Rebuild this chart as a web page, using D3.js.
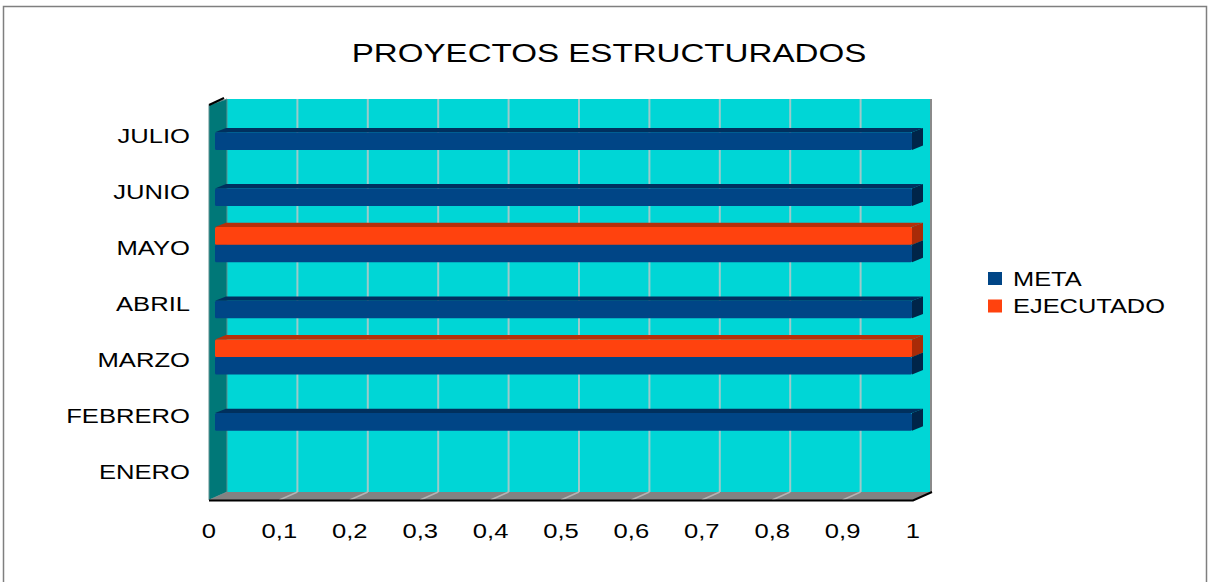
<!DOCTYPE html>
<html>

<head>
    <title>Proyectos estructurados</title>
    <meta charset="utf-8">
    <script src="https://d3js.org/d3.v7.min.js"></script>
    <style>
        body { margin: 0; background: #fff; }
        text { font-family: "Liberation Sans", Arial, sans-serif; fill: #000; }
    </style>
</head>

<body>
</body>

<script>

    let meses = ["ENERO", "FEBRERO", "MARZO", "ABRIL", "MAYO", "JUNIO", "JULIO"];
    let meta = [0, 1, 1, 1, 1, 1, 1];
    let ejecutado = [0, 0, 1, 0, 1, 0, 0];
    let series = ["EJECUTADO", "META"];   // arriba -> abajo dentro de cada mes
    let ticks = [0, 0.1, 0.2, 0.3, 0.4, 0.5, 0.6, 0.7, 0.8, 0.9, 1];

    let width = 1209, height = 582;
    let stretch = 1.22;             // la imagen original esta estirada en horizontal
    let depth = [18, -8];           // desplazamiento de la pared del fondo

    let colores = {
        "META": { front: "#004586", top: "#00305e", side: "#002549" },
        "EJECUTADO": { front: "#ff420e", top: "#b5300a", side: "#a82b08" }
    };

    let svg = d3.select("body")
        .append("svg")
            .attr("width", width)
            .attr("height", height);

    // marco exterior
    svg.append("rect")
        .attr("x", 3.5).attr("y", 6.5)
        .attr("width", 1203).attr("height", 600)
        .attr("fill", "none")
        .attr("stroke", "#7f7f7f")
        .attr("stroke-width", 1.5);

    svg.append("text")
        .attr("transform", "translate(609,62) scale(1.25,1)")
        .attr("text-anchor", "middle")
        .style("font-size", "26.5px")
        .text("PROYECTOS ESTRUCTURADOS");

    // escalas en el plano frontal
    let x = d3.scaleLinear().domain([0, 1]).range([209, 913]);
    let y = d3.scaleBand()
        .domain(meses.slice().reverse())
        .range([107, 500]);
    let ySub = d3.scaleBand()
        .domain(series)
        .range([0, y.bandwidth()])
        .paddingOuter(0.6);
    // plano de las barras (un tercio de profundidad)
    let xBar = d3.scaleLinear().domain([0, 1]).range([215, 912]);
    let barShift = -2.7;
    let barDepth = [11, -4.4];

    let [dx, dy] = depth;
    let plotTop = y.range()[0], plotBottom = y.range()[1];

    // pared del fondo
    svg.append("rect")
        .attr("x", x(0) + dx).attr("y", plotTop + dy)
        .attr("width", x(1) - x(0)).attr("height", plotBottom - plotTop)
        .attr("fill", "#00d6d6");

    svg.append("g")
        .selectAll("line")
        .data(ticks.slice(1, -1))
        .join("line")
            .attr("x1", d => x(d) + dx).attr("x2", d => x(d) + dx)
            .attr("y1", plotTop + dy).attr("y2", plotBottom + dy)
            .attr("stroke", "#9ccaca")
            .attr("stroke-width", 2);

    svg.append("line")
        .attr("x1", x(1) + dx).attr("x2", x(1) + dx)
        .attr("y1", plotTop + dy).attr("y2", plotBottom + dy)
        .attr("stroke", "#8a8a8a")
        .attr("stroke-width", 2);

    // pared izquierda
    svg.append("polygon")
        .attr("points", [[x(0), plotTop - 2], [x(0) + dx, plotTop + dy], [x(0) + dx, plotBottom + dy], [x(0), plotBottom]].join(" "))
        .attr("fill", "#007878")
        .attr("stroke", "#5f8f8f")
        .attr("stroke-width", 1);
    svg.append("line")
        .attr("x1", x(0)).attr("y1", plotTop - 2)
        .attr("x2", x(0) + dx - 3).attr("y2", plotTop + dy - 1)
        .attr("stroke", "#000")
        .attr("stroke-width", 2);

    // suelo
    svg.append("polygon")
        .attr("points", [[x(0), plotBottom], [x(0) + dx, plotBottom + dy], [x(1) + dx, plotBottom + dy], [x(1), plotBottom]].join(" "))
        .attr("fill", "#828282");
    svg.append("g")
        .selectAll("line")
        .data(ticks.slice(1, -1))
        .join("line")
            .attr("x1", d => x(d) + dx).attr("y1", plotBottom + dy)
            .attr("x2", d => x(d)).attr("y2", plotBottom)
            .attr("stroke", "#b4b4b4")
            .attr("stroke-width", 1.5);
    svg.append("polyline")
        .attr("points", [[x(0), plotBottom + 0.5], [x(1), plotBottom + 0.5], [x(1) + dx + 1, plotBottom + dy]].join(" "))
        .attr("fill", "none")
        .attr("stroke", "#000")
        .attr("stroke-width", 2);

    // barras 3D
    let barras = [];
    meses.forEach((m, i) => {
        barras.push({ mes: m, serie: "META", value: meta[i] });
        barras.push({ mes: m, serie: "EJECUTADO", value: ejecutado[i] });
    });
    barras = barras.filter(d => d.value > 0);

    let h = ySub.bandwidth();
    let [bx, by] = barDepth;
    let g = svg.append("g").selectAll("g")
        .data(barras)
        .join("g");

    g.append("polygon")
        .attr("points", d => {
            let x0 = xBar(0), x1 = xBar(d.value), y0 = y(d.mes) + ySub(d.serie) + barShift;
            return [[x0, y0], [x0 + bx, y0 + by], [x1 + bx, y0 + by], [x1, y0]].join(" ");
        })
        .attr("fill", d => colores[d.serie].top);

    g.append("polygon")
        .attr("points", d => {
            let x1 = xBar(d.value), y0 = y(d.mes) + ySub(d.serie) + barShift;
            return [[x1, y0], [x1 + bx, y0 + by], [x1 + bx, y0 + h + by], [x1, y0 + h]].join(" ");
        })
        .attr("fill", d => colores[d.serie].side);

    g.append("rect")
        .attr("x", xBar(0))
        .attr("y", d => y(d.mes) + ySub(d.serie) + barShift)
        .attr("width", d => xBar(d.value) - xBar(0))
        .attr("height", h)
        .attr("rx", 1.5)
        .attr("fill", d => colores[d.serie].front);

    // etiquetas de meses
    svg.append("g")
        .selectAll("text")
        .data(meses)
        .join("text")
            .attr("transform", d => `translate(190,${y(d) + y.bandwidth() / 2 + 7.5}) scale(${stretch},1)`)
            .attr("text-anchor", "end")
            .style("font-size", "21px")
            .text(d => d);

    // etiquetas del eje x
    let fmt = d => d3.format(".1~f")(d).replace(".", ",");
    svg.append("g")
        .selectAll("text")
        .data(ticks)
        .join("text")
            .attr("transform", d => `translate(${x(d)},538) scale(${stretch},1)`)
            .attr("text-anchor", "middle")
            .style("font-size", "21px")
            .text(fmt);

    // leyenda
    let leyenda = svg.append("g")
        .selectAll("g")
        .data(["META", "EJECUTADO"])
        .join("g")
            .attr("transform", (d, i) => `translate(988,${272 + i * 27.5})`);
    leyenda.append("rect")
        .attr("width", 14).attr("height", 13)
        .attr("fill", d => colores[d].front);
    leyenda.append("text")
        .attr("transform", `translate(25,13.5) scale(1.27,1)`)
        .style("font-size", "20px")
        .text(d => d);

</script>

</html>
